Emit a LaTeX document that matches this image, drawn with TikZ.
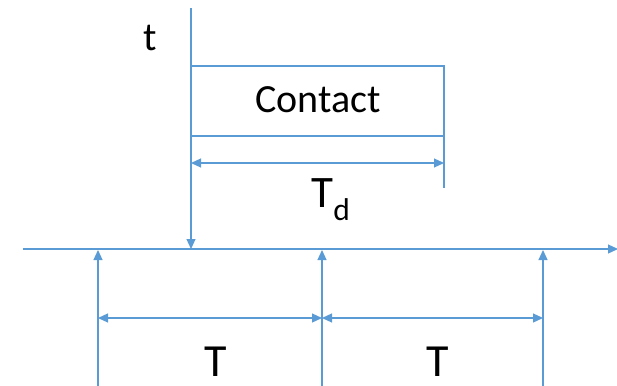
\documentclass[tikz,border=0pt]{standalone}
\usepackage{fontspec}
\setmainfont{Carlito}
\usetikzlibrary{arrows.meta}
\definecolor{lineblue}{HTML}{5B9BD5}
\begin{document}
\begin{tikzpicture}[x=1pt,y=-1pt,
  ln/.style={draw=lineblue,line width=1.2pt},
  tip/.style={-{Triangle[length=10pt,width=9pt]}},
  dtip/.style={{Triangle[length=10pt,width=9pt]}-{Triangle[length=10pt,width=9pt]}},
  lbl/.style={inner sep=0pt,anchor=base,text=black}]
\useasboundingbox (0,0) rectangle (617,385);
% coordinates
\coordinate (vtop) at (191,8);
\coordinate (vbot) at (191,249);
\coordinate (axL) at (23,249);
\coordinate (axR) at (618,249);
\coordinate (bTL) at (191,66);
\coordinate (bTR) at (444,66);
\coordinate (bBL) at (191,136);
\coordinate (bBR) at (444,136);
\coordinate (bRend) at (444,188);
\coordinate (tdL) at (191,163);
\coordinate (tdR) at (444,163);
\coordinate (u1b) at (98,386);
\coordinate (u1t) at (98,250);
\coordinate (u2b) at (322,386);
\coordinate (u2t) at (322,250);
\coordinate (u3b) at (543,386);
\coordinate (u3t) at (543,250);
\coordinate (t1) at (98,318);
\coordinate (t2) at (322,318);
\coordinate (t3) at (543,318);
% lines
\draw[ln,tip] (vtop) -- (vbot);
\draw[ln,tip] (axL) -- (axR);
\draw[ln] (bTL) -- (bTR) -- (bRend);
\draw[ln] (bBL) -- (bBR);
\draw[ln,dtip] (tdL) -- (tdR);
\draw[ln,tip] (u1b) -- (u1t);
\draw[ln,tip] (u2b) -- (u2t);
\draw[ln,tip] (u3b) -- (u3t);
\draw[ln,dtip] (t1) -- (t2);
\draw[ln,dtip] (t2) -- (t3);
% labels
\node[lbl,font=\fontsize{40}{40}\selectfont] (tlab) at (150,51) {t};
\node[lbl,font=\fontsize{40}{40}\selectfont] (contact) at (318,112) {Contact};
\node[lbl,font=\fontsize{45}{45}\selectfont] (tdlab) at (331,207) {T\textsubscript{d}};
\node[lbl,font=\fontsize{46}{46}\selectfont] (T1) at (216,376) {T};
\node[lbl,font=\fontsize{46}{46}\selectfont] (T2) at (438,376) {T};
\end{tikzpicture}
\end{document}
